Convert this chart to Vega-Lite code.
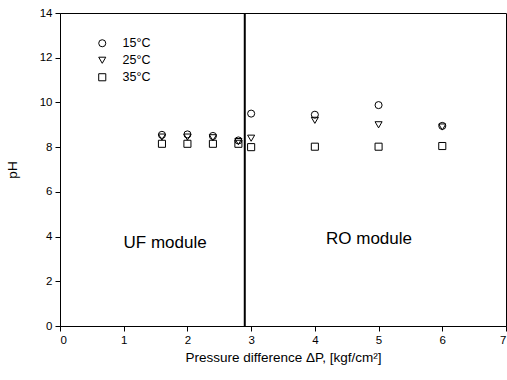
{
  "$schema": "https://vega.github.io/schema/vega-lite/v6.json",
  "width": 446,
  "height": 313,
  "autosize": {"type": "none"},
  "padding": {"left": 60, "top": 13, "right": 1, "bottom": 41},
  "background": "white",
  "config": {
    "font": "Liberation Sans",
    "view": {"stroke": "black", "strokeWidth": 1},
    "axis": {
      "grid": false,
      "domainColor": "black",
      "tickColor": "black",
      "labelColor": "black",
      "titleColor": "black",
      "labelFontSize": 11.5,
      "titleFontSize": 13.5,
      "titleFontWeight": "normal",
      "tickSize": 5,
      "labelPadding": 3
    }
  },
  "layer": [
    {
      "data": {
        "values": [
          {"P": 1.6, "pH": 8.55, "T": "15°C"},
          {"P": 2.0, "pH": 8.57, "T": "15°C"},
          {"P": 2.4, "pH": 8.5, "T": "15°C"},
          {"P": 2.8, "pH": 8.3, "T": "15°C"},
          {"P": 3.0, "pH": 9.5, "T": "15°C"},
          {"P": 4.0, "pH": 9.45, "T": "15°C"},
          {"P": 5.0, "pH": 9.88, "T": "15°C"},
          {"P": 6.0, "pH": 8.95, "T": "15°C"},
          {"P": 1.6, "pH": 8.45, "T": "25°C"},
          {"P": 2.0, "pH": 8.45, "T": "25°C"},
          {"P": 2.4, "pH": 8.42, "T": "25°C"},
          {"P": 2.8, "pH": 8.25, "T": "25°C"},
          {"P": 3.0, "pH": 8.4, "T": "25°C"},
          {"P": 4.0, "pH": 9.2, "T": "25°C"},
          {"P": 5.0, "pH": 9.0, "T": "25°C"},
          {"P": 6.0, "pH": 8.9, "T": "25°C"},
          {"P": 1.6, "pH": 8.15, "T": "35°C"},
          {"P": 2.0, "pH": 8.15, "T": "35°C"},
          {"P": 2.4, "pH": 8.15, "T": "35°C"},
          {"P": 2.8, "pH": 8.15, "T": "35°C"},
          {"P": 3.0, "pH": 8.0, "T": "35°C"},
          {"P": 4.0, "pH": 8.02, "T": "35°C"},
          {"P": 5.0, "pH": 8.02, "T": "35°C"},
          {"P": 6.0, "pH": 8.05, "T": "35°C"}
        ]
      },
      "mark": {"type": "point", "filled": false, "color": "black", "strokeWidth": 1, "size": 50, "opacity": 1},
      "encoding": {
        "x": {
          "field": "P", "type": "quantitative",
          "scale": {"domain": [0, 7], "nice": false, "zero": true},
          "axis": {"values": [0, 1, 2, 3, 4, 5, 6, 7], "format": "d", "title": "Pressure difference ΔP, [kgf/cm²]", "titlePadding": 5}
        },
        "y": {
          "field": "pH", "type": "quantitative",
          "scale": {"domain": [0, 14], "nice": false},
          "axis": {"values": [0, 2, 4, 6, 8, 10, 12, 14], "title": "pH", "titlePadding": 20}
        },
        "shape": {
          "field": "T", "type": "nominal",
          "scale": {"domain": ["15°C", "25°C", "35°C"], "range": ["circle", "triangle-down", "square"]},
          "legend": {
            "title": null,
            "orient": "none",
            "legendX": 36,
            "legendY": 24,
            "labelFontSize": 12.5,
            "labelColor": "black",
            "symbolStrokeColor": "black",
            "symbolFillColor": "transparent",
            "symbolStrokeWidth": 1,
            "symbolSize": 50,
            "labelOffset": 14,
            "rowPadding": 4
          }
        }
      }
    },
    {
      "data": {"values": [{"x": 2.9}]},
      "mark": {"type": "rule", "color": "black", "strokeWidth": 2},
      "encoding": {"x": {"field": "x", "type": "quantitative"}}
    },
    {
      "data": {
        "values": [
          {"x": 1.65, "y": 3.7, "label": "UF module"},
          {"x": 4.85, "y": 3.9, "label": "RO module"}
        ]
      },
      "mark": {"type": "text", "fontSize": 17, "color": "black", "align": "center", "baseline": "middle"},
      "encoding": {
        "x": {"field": "x", "type": "quantitative"},
        "y": {"field": "y", "type": "quantitative"},
        "text": {"field": "label"}
      }
    }
  ]
}
